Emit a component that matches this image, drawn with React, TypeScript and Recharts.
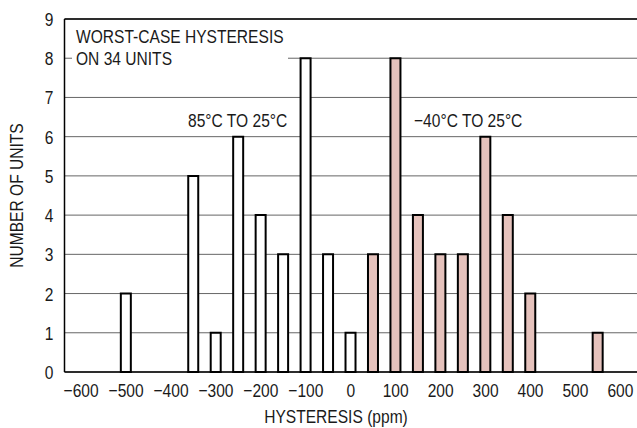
import React from 'react';
import { BarChart, Bar, XAxis, YAxis, CartesianGrid, Cell, ReferenceLine, Customized } from 'recharts';

const hotBins = [-500, -350, -300, -250, -200, -150, -100, -50, 0];
const hotCounts = [2, 5, 1, 6, 4, 3, 8, 3, 1];
const coldBins = [50, 100, 150, 200, 250, 300, 350, 400, 550];
const coldCounts = [3, 8, 4, 3, 3, 6, 4, 2, 1];
const xTicks = [-600, -500, -400, -300, -200, -100, 0, 100, 200, 300, 400, 500, 600];
const yTicks = [0, 1, 2, 3, 4, 5, 6, 7, 8, 9];

const data = [
  ...hotBins.map((x, i) => ({ x, count: hotCounts[i], group: 'hot' })),
  ...coldBins.map((x, i) => ({ x, count: coldCounts[i], group: 'cold' })),
];

const FONT = '"Liberation Sans", Arial, sans-serif';
const TXT = '#1a1a1a';
const PINK = '#e5c2bc';
const SX = 0.82;

const fmt = (v: number) => (v < 0 ? '\u2212' + Math.abs(v) : String(v));

type NTProps = { x: number; y: number; anchor?: 'start' | 'middle' | 'end'; rotate?: number; children: React.ReactNode };
const NarrowText = ({ x, y, anchor = 'start', rotate = 0, children }: NTProps) => (
  <text
    x={0}
    y={0}
    transform={`translate(${x} ${y}) rotate(${rotate}) scale(${SX} 1)`}
    textAnchor={anchor}
    fontFamily={FONT}
    fontSize={19}
    fill={TXT}
  >
    {children}
  </text>
);

const XTick = (props: any) => (
  <NarrowText x={props.x} y={props.y + 25} anchor="middle">
    {fmt(props.payload.value)}
  </NarrowText>
);

const YTick = (props: any) => (
  <NarrowText x={props.x} y={props.y + 7} anchor="end">
    {props.payload.value}
  </NarrowText>
);

const Annotations = () => (
  <g>
    <rect x={72} y={24} width={216} height={44} fill="#fff" />
    <NarrowText x={76} y={43}>WORST-CASE HYSTERESIS</NarrowText>
    <NarrowText x={76} y={65}>ON 34 UNITS</NarrowText>
    <NarrowText x={188} y={127}>85°C TO 25°C</NarrowText>
    <NarrowText x={414} y={127}>{'\u2212'}40°C TO 25°C</NarrowText>
    <NarrowText x={336} y={423} anchor="middle">HYSTERESIS (ppm)</NarrowText>
    <NarrowText x={23} y={195.5} anchor="middle" rotate={-90}>NUMBER OF UNITS</NarrowText>
  </g>
);

export default function App() {
  return (
    <div style={{ position: 'absolute', left: 0, top: 0, background: '#fff' }}>
      <BarChart width={637} height={428} data={data} margin={{ top: 19, right: 0, left: 0, bottom: 0 }} barSize={10}>
        <CartesianGrid vertical={false} stroke="#666" strokeWidth={1} />
        <XAxis
          dataKey="x"
          type="number"
          domain={[-637, 637]}
          ticks={xTicks}
          height={56}
          tickSize={0}
          tickMargin={0}
          axisLine={{ stroke: '#000', strokeWidth: 1.5 }}
          tick={XTick}
          interval={0}
          allowDataOverflow
        />
        <YAxis
          type="number"
          domain={[0, 9]}
          ticks={yTicks}
          width={64.5}
          tickSize={0}
          tickMargin={11}
          axisLine={{ stroke: '#000', strokeWidth: 1.5 }}
          tick={YTick}
          interval={0}
        />
        <ReferenceLine y={9} stroke="#000" strokeWidth={1.5} />
        <Customized component={Annotations} />
        <Bar dataKey="count" stroke="#000" strokeWidth={2} isAnimationActive={false}>
          {data.map((d, i) => (
            <Cell key={i} fill={d.group === 'hot' ? '#fff' : PINK} />
          ))}
        </Bar>
      </BarChart>
    </div>
  );
}
